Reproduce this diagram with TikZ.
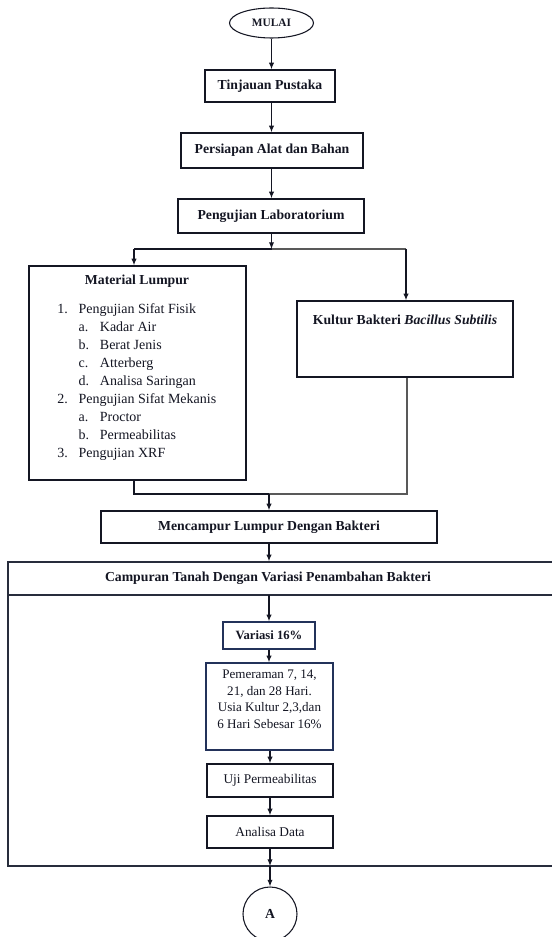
\documentclass[tikz,border=0pt]{standalone}
\usepackage{fontspec}
\setmainfont{Liberation Serif}
\usetikzlibrary{arrows.meta,shapes.geometric}
\definecolor{ink}{RGB}{20,22,35}
\definecolor{frame}{RGB}{40,45,60}
\definecolor{navyline}{RGB}{35,50,90}
\begin{document}
\begin{tikzpicture}[x=0.75pt,y=-0.75pt,
  box/.style={draw=ink, line width=1pt, inner sep=0pt, text=ink, font=\fontsize{10.3}{12}\selectfont\bfseries},
  rbox/.style={draw=ink, line width=1pt, inner sep=0pt, text=ink, font=\fontsize{10}{12}\selectfont},
  bluebox/.style={draw=navyline, line width=1pt, inner sep=0pt, text=ink},
  arr/.style={draw=ink, line width=0.9pt, -{Latex[length=5pt,width=4pt]}},
  ln/.style={draw=ink, line width=0.9pt},
  gln/.style={draw=gray!70!black, line width=0.9pt},
  txt/.style={inner sep=0pt, text=ink}]
\clip (0,0) rectangle (552,937);
\fill[white] (0,0) rectangle (552,937);

% top chain
\node[draw=ink, line width=0.8pt, ellipse, minimum width=63pt, minimum height=22.5pt, inner sep=0pt,
      font=\fontsize{8.5}{10}\selectfont\bfseries, text=ink] (mulai) at (271.5,23) {MULAI};
\node[box, minimum width=97.5pt, minimum height=24pt] (tinjau) at (270,86) {Tinjauan Pustaka};
\node[box, minimum width=136.5pt, minimum height=26.25pt] (persiap) at (272,150.5) {Persiapan Alat dan Bahan};
\node[box, minimum width=139.5pt, minimum height=25.5pt] (lab) at (271,216) {Pengujian Laboratorium};

\draw[arr] (mulai.south) -- (tinjau.north -| mulai.south);
\draw[arr] (tinjau.south -| mulai.south) -- (persiap.north -| mulai.south);
\draw[arr] (persiap.south -| mulai.south) -- (lab.north -| mulai.south);

% branch
\coordinate (br) at (271.5,249);
\coordinate (brL) at (134,249);
\coordinate (brR) at (406,249);
\draw[arr] (lab.south -| br) -- (br);
\draw[ln] (br) -- (brL);
\draw[gln] (br) -- (brR);

% Material Lumpur
\node[box, minimum width=162.75pt, minimum height=160.5pt] (material) at (137.5,373) {};
\node[txt, font=\fontsize{10.3}{12}\selectfont\bfseries] (mattitle) at (137,281) {Material Lumpur};
\node[txt, anchor=north west, align=left, font=\fontsize{10.5}{13.5}\selectfont] (matlist) at (57,303.5)
{\makebox[16pt][l]{1.}Pengujian Sifat Fisik\\
 \hspace*{16pt}\makebox[16pt][l]{a.}Kadar Air\\
 \hspace*{16pt}\makebox[16pt][l]{b.}Berat Jenis\\
 \hspace*{16pt}\makebox[16pt][l]{c.}Atterberg\\
 \hspace*{16pt}\makebox[16pt][l]{d.}Analisa Saringan\\
 \makebox[16pt][l]{2.}Pengujian Sifat Mekanis\\
 \hspace*{16pt}\makebox[16pt][l]{a.}Proctor\\
 \hspace*{16pt}\makebox[16pt][l]{b.}Permeabilitas\\
 \makebox[16pt][l]{3.}Pengujian XRF};

% Kultur
\node[box, minimum width=162pt, minimum height=57pt] (kultur) at (405,339) {};
\node[txt, font=\fontsize{10.3}{12}\selectfont\bfseries] (kulttxt) at (405,320) {Kultur Bakteri \textit{Bacillus Subtilis}};

\draw[arr] (brL) -- (material.north -| brL);
\draw[arr] (brR) -- (kultur.north -| brR);

% merge
\coordinate (mgL) at (134,494);
\coordinate (mgR) at (407,494);
\coordinate (mg) at (269,494);
\draw[ln] (material.south -| mgL) -- (mgL) -- (mg);
\draw[gln] (mg) -- (mgR) -- (kultur.south -| mgR);

\node[box, minimum width=252pt, minimum height=24pt] (campur) at (269,527) {Mencampur Lumpur Dengan Bakteri};
\draw[arr] (mg) -- (campur.north -| mg);

% big box
\node[draw=frame, line width=1pt, minimum width=429pt, minimum height=228pt, inner sep=0pt] (big) at (294,714) {};
\coordinate (hdL) at (8,595);
\coordinate (hdR) at (580,595);
\draw[draw=frame, line width=1pt] (hdL) -- (hdR);
\node[txt, font=\fontsize{10.3}{12}\selectfont\bfseries] (bigtitle) at (268,578) {Campuran Tanah Dengan Variasi Penambahan Bakteri};

\draw[arr] (campur.south -| mg) -- (big.north -| mg);

\node[bluebox, minimum width=69pt, minimum height=20.25pt, font=\fontsize{9.5}{11}\selectfont\bfseries] (var) at (269,635.5) {Variasi 16\%};
\draw[arr] (var.north |- hdL) -- (var.north);

\node[bluebox, minimum width=95.25pt, minimum height=65.25pt] (peram) at (269.5,706.5) {};
\node[txt, anchor=north, align=center, font=\fontsize{9.8}{12.5}\selectfont] (peramtxt) at (269.5,669.5)
{Pemeraman 7, 14,\\21, dan 28 Hari.\\Usia Kultur 2,3,dan\\6 Hari Sebesar 16\%};
\draw[arr] (var.south) -- (peram.north -| var.south);

\node[rbox, minimum width=94.5pt, minimum height=24.75pt] (uji) at (270,780.5) {Uji Permeabilitas};
\node[rbox, minimum width=94.5pt, minimum height=24pt] (analisa) at (270,832) {Analisa Data};
\draw[arr] (peram.south -| uji.north) -- (uji.north);
\draw[arr] (uji) -- (analisa);

\coordinate (bigbot) at (270,866);
\draw[arr] (analisa.south) -- (bigbot);

\node[draw=ink, line width=0.8pt, circle, minimum size=40.5pt, inner sep=0pt,
      font=\fontsize{10.3}{12}\selectfont\bfseries, text=ink] (A) at (270,914) {A};
\draw[arr] (bigbot) -- (A.north);
\end{tikzpicture}
\end{document}
